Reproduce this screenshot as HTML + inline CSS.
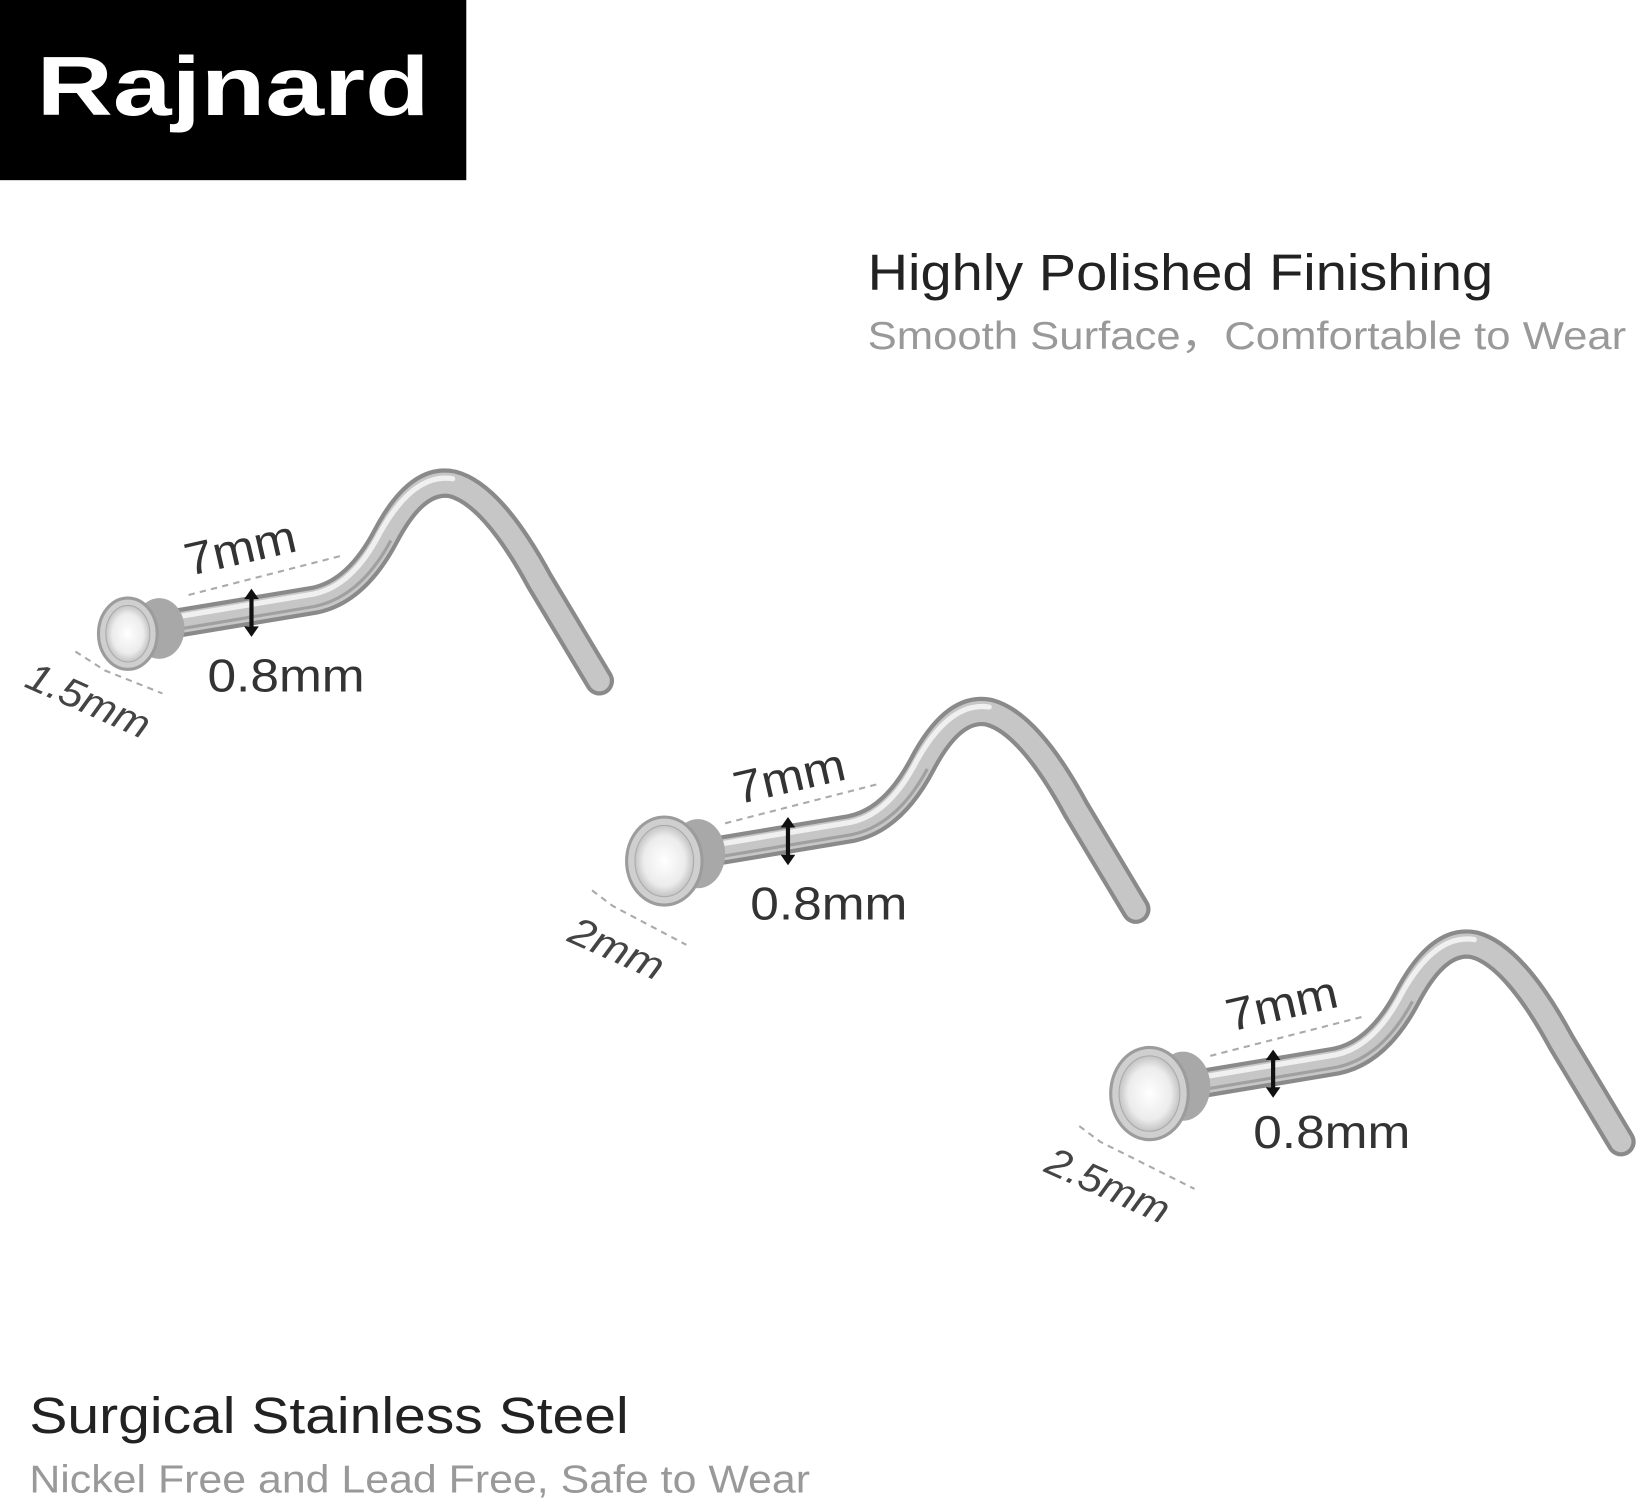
<!DOCTYPE html>
<html><head><meta charset="utf-8"><style>
html,body{margin:0;padding:0;background:#fff;}
svg{display:block}
</style></head><body>
<svg width="1643" height="1500" viewBox="0 0 1568 1432" preserveAspectRatio="none" xmlns="http://www.w3.org/2000/svg">
<defs>
<radialGradient id="gem" cx="0.5" cy="0.5" r="0.5">
<stop offset="0" stop-color="#ffffff"/><stop offset="0.7" stop-color="#ececec"/><stop offset="1" stop-color="#c4c4c4"/>
</radialGradient>
<g id="rod">
<path d="M150,598 L300,573 Q340,565 368,512 Q398,455 432,462 Q470,472 515,555 L572,650" fill="none" stroke="#8a8a8a" stroke-width="28" stroke-linecap="round"/>
<path d="M150,598 L300,573 Q340,565 368,512 Q398,455 432,462 Q470,472 515,555 L572,650" fill="none" stroke="#c6c6c6" stroke-width="20" stroke-linecap="round"/>
<path d="M150,592 L300,567 Q337,559 363,508 Q395,451 432,457" fill="none" stroke="#f0f0f0" stroke-width="5" stroke-linecap="round"/>
<path d="M150,604 L300,579 Q344,570 373,516" fill="none" stroke="#a0a0a0" stroke-width="3"/>
<path d="M240,566 L240,604" stroke="#111" stroke-width="4"/>
<path d="M233,572 L240,562 L247,572 Z M233,598 L240,608 L247,598 Z" fill="#111"/>
<path d="M180,568 L328,530" stroke="#aaa" stroke-width="2" stroke-dasharray="6,5"/>
</g>
</defs>
<rect x="0" y="0" width="445" height="172" fill="#000"/>
<text x="35" y="110" textLength="375" lengthAdjust="spacingAndGlyphs" font-family="Liberation Sans, sans-serif" font-weight="bold" font-size="80" fill="#fff">Rajnard</text>
<text x="828" y="277" textLength="597" lengthAdjust="spacingAndGlyphs" font-family="Liberation Sans, sans-serif" font-size="49" fill="#222">Highly Polished Finishing</text>
<text x="828" y="333" textLength="724" lengthAdjust="spacingAndGlyphs" font-family="Liberation Sans, 'Noto Sans CJK SC', sans-serif" font-size="37" fill="#999">Smooth Surface，Comfortable to Wear</text>
<text x="28" y="1368" textLength="572" lengthAdjust="spacingAndGlyphs" font-family="Liberation Sans, sans-serif" font-size="49" fill="#222">Surgical Stainless Steel</text>
<text x="28" y="1425" textLength="745" lengthAdjust="spacingAndGlyphs" font-family="Liberation Sans, sans-serif" font-size="37" fill="#999">Nickel Free and Lead Free, Safe to Wear</text>

<!-- pin 1 -->
<use href="#rod"/>
<ellipse cx="152" cy="600" rx="24" ry="29" fill="#a8a8a8"/>
<ellipse cx="122" cy="605" rx="28" ry="34" fill="#cfcfcf" stroke="#9c9c9c" stroke-width="3"/>
<ellipse cx="122" cy="605" rx="21" ry="27" fill="url(#gem)" stroke="#aaa" stroke-width="1"/>
<path d="M72,622 L100,640 L155,662" fill="none" stroke="#aaa" stroke-width="2" stroke-dasharray="6,5"/>
<text x="180" y="550" transform="rotate(-13 180 550)" textLength="108" lengthAdjust="spacingAndGlyphs" font-family="Liberation Sans, sans-serif" font-size="44" fill="#333">7mm</text>
<text x="198" y="660" textLength="150" lengthAdjust="spacingAndGlyphs" font-family="Liberation Sans, sans-serif" font-size="44" fill="#333">0.8mm</text>
<text x="22" y="655" transform="rotate(24 22 655)" textLength="125" lengthAdjust="spacingAndGlyphs" font-family="Liberation Sans, sans-serif" font-size="38" fill="#444" font-style="italic">1.5mm</text>

<!-- pin 2 -->
<g transform="translate(512,218)"><use href="#rod"/></g>
<ellipse cx="666" cy="815" rx="26" ry="33" fill="#a8a8a8"/>
<ellipse cx="634" cy="822" rx="36" ry="42" fill="#cfcfcf" stroke="#9c9c9c" stroke-width="3"/>
<ellipse cx="634" cy="822" rx="28" ry="34" fill="url(#gem)" stroke="#aaa" stroke-width="1"/>
<path d="M565,850 L585,865 L655,902" fill="none" stroke="#aaa" stroke-width="2" stroke-dasharray="6,5"/>
<text x="704" y="768" transform="rotate(-13 704 768)" textLength="108" lengthAdjust="spacingAndGlyphs" font-family="Liberation Sans, sans-serif" font-size="44" fill="#333">7mm</text>
<text x="716" y="878" textLength="150" lengthAdjust="spacingAndGlyphs" font-family="Liberation Sans, sans-serif" font-size="44" fill="#333">0.8mm</text>
<text x="540" y="898" transform="rotate(24 540 898)" textLength="95" lengthAdjust="spacingAndGlyphs" font-family="Liberation Sans, sans-serif" font-size="38" fill="#444" font-style="italic">2mm</text>

<!-- pin 3 -->
<g transform="translate(975,440)"><use href="#rod"/></g>
<ellipse cx="1129" cy="1037" rx="26" ry="33" fill="#a8a8a8"/>
<ellipse cx="1097" cy="1044" rx="37" ry="44" fill="#cfcfcf" stroke="#9c9c9c" stroke-width="3"/>
<ellipse cx="1097" cy="1044" rx="29" ry="36" fill="url(#gem)" stroke="#aaa" stroke-width="1"/>
<path d="M1030,1075 L1050,1090 L1140,1135" fill="none" stroke="#aaa" stroke-width="2" stroke-dasharray="6,5"/>
<text x="1174" y="985" transform="rotate(-13 1174 985)" textLength="108" lengthAdjust="spacingAndGlyphs" font-family="Liberation Sans, sans-serif" font-size="44" fill="#333">7mm</text>
<text x="1196" y="1096" textLength="150" lengthAdjust="spacingAndGlyphs" font-family="Liberation Sans, sans-serif" font-size="44" fill="#333">0.8mm</text>
<text x="995" y="1118" transform="rotate(24 995 1118)" textLength="125" lengthAdjust="spacingAndGlyphs" font-family="Liberation Sans, sans-serif" font-size="38" fill="#444" font-style="italic">2.5mm</text>
</svg>
</body></html>
